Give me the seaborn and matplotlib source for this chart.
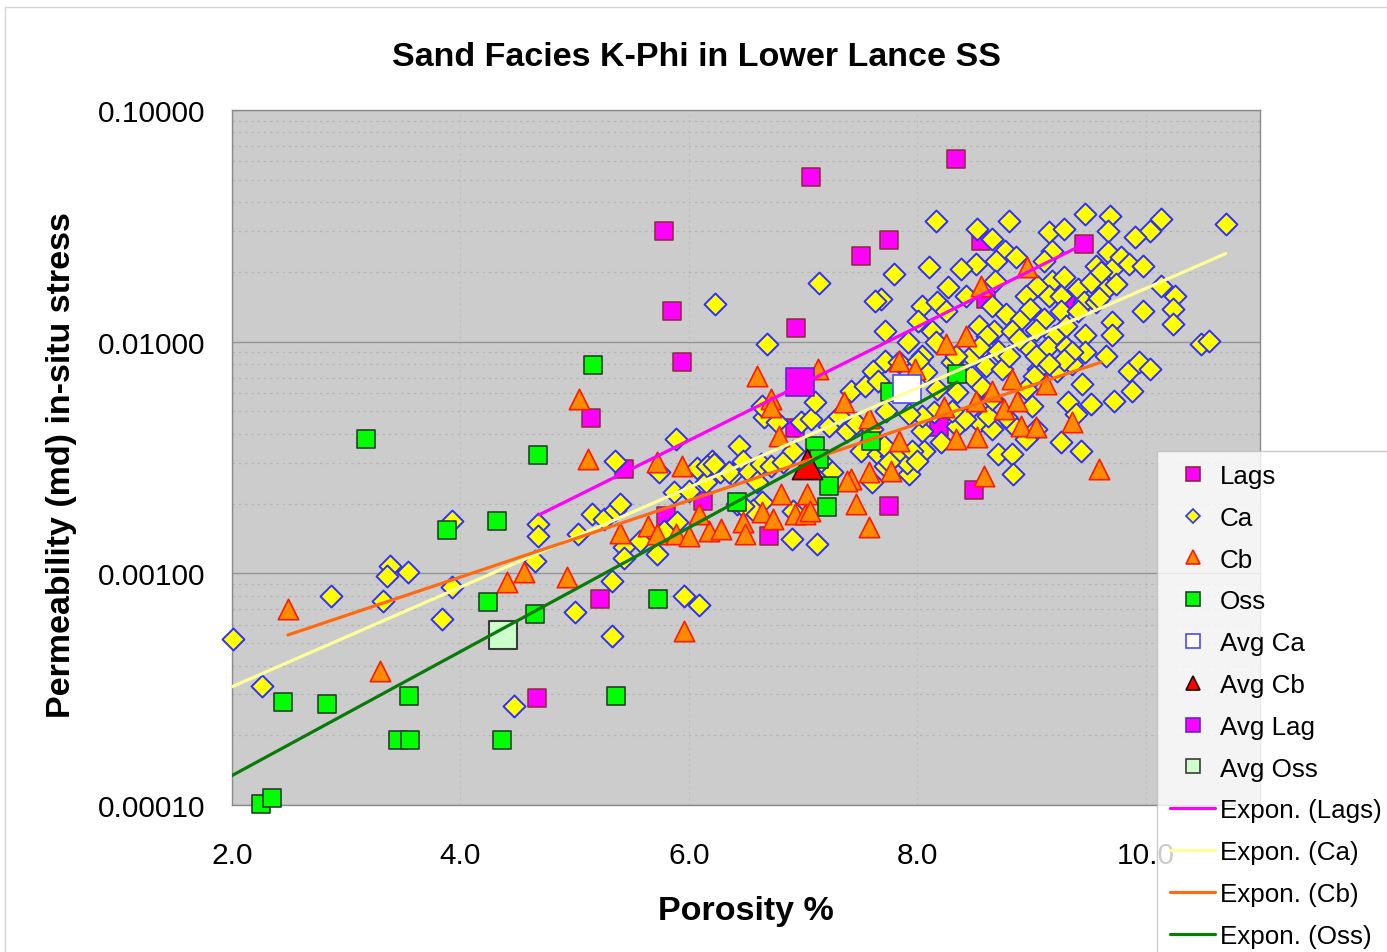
import matplotlib
matplotlib.use("Agg")
import matplotlib.pyplot as plt
from matplotlib.lines import Line2D
from matplotlib.patches import Rectangle
from matplotlib.ticker import FixedLocator, LogLocator, FormatStrFormatter, NullFormatter
import seaborn as sns

# ---------------- data (porosity %, permeability md) ----------------
lags_points = [(8.34, 0.0615), (7.07, 0.0514), (5.78, 0.0300), (7.75, 0.0274), (7.51, 0.0234),
               (5.85, 0.0136), (9.46, 0.0264), (6.94, 0.0115), (5.94, 0.00816), (5.14, 0.00469),
               (5.43, 0.00282), (8.56, 0.0272), (8.60, 0.0153), (9.30, 0.0153), (8.50, 0.00229),
               (7.75, 0.00195), (6.70, 0.00145), (5.22, 0.000776), (4.67, 0.000290), (5.80, 0.00176),
               (6.12, 0.00205), (8.19, 0.00429), (6.93, 0.00424)]

ca_points = [(2.01, 0.000521), (2.26, 0.000327), (2.87, 0.000799), (3.38, 0.00108), (3.36, 0.000975),
             (3.54, 0.00101), (3.32, 0.000761), (3.84, 0.000635), (3.93, 0.000874), (3.93, 0.00168),
             (4.47, 0.000268), (4.65, 0.00113), (4.68, 0.00163), (4.68, 0.00145),
             (5.00, 0.000681), (5.33, 0.000537), (5.96, 0.000799), (6.09, 0.000731), (5.03, 0.00148),
             (5.15, 0.00180), (5.26, 0.00172), (5.35, 0.00188), (5.40, 0.00199), (5.43, 0.00130),
             (5.43, 0.00117), (5.57, 0.00138), (5.72, 0.00121), (5.78, 0.00152), (5.90, 0.00166),
             (5.33, 0.000927), (5.35, 0.00306), (5.74, 0.00274), (5.89, 0.00380), (5.87, 0.00224),
             (6.00, 0.00226), (6.07, 0.00285), (6.15, 0.00248), (6.20, 0.00306), (6.27, 0.00274),
             (6.38, 0.00269), (6.44, 0.00355), (6.47, 0.00306), (6.23, 0.0146), (6.68, 0.00977),
             (6.16, 0.00291), (6.22, 0.00297), (6.35, 0.00274), (6.53, 0.00274), (6.63, 0.00297),
             (6.72, 0.00291), (6.82, 0.00303), (6.91, 0.00339), (6.60, 0.00248), (6.42, 0.00199),
             (6.64, 0.00203), (6.56, 0.00188), (6.91, 0.00186), (6.90, 0.00141), (7.12, 0.00134),
             (6.66, 0.00474), (6.77, 0.00451), (6.64, 0.00527), (6.98, 0.00451), (7.07, 0.00464),
             (7.10, 0.00549), (7.23, 0.00433), (7.31, 0.00478), (7.38, 0.00412), (7.46, 0.00446),
             (7.60, 0.00420), (7.42, 0.00613), (7.54, 0.00644), (7.61, 0.00747), (7.66, 0.00677),
             (7.72, 0.00825), (7.51, 0.00337), (7.66, 0.00328), (7.60, 0.00248), (7.72, 0.00291),
             (7.77, 0.00322), (7.16, 0.00306), (7.25, 0.00274), (6.47, 0.00195), (7.93, 0.00269),
             (7.91, 0.00300), (8.06, 0.00339), (8.21, 0.00369), (8.35, 0.00433), (8.54, 0.00451),
             (8.65, 0.00420), (8.83, 0.00441),
             (8.16, 0.0332), (8.80, 0.0332), (9.47, 0.0356), (9.69, 0.0349), (8.52, 0.0306),
             (8.65, 0.0277), (9.15, 0.0298), (9.28, 0.0306), (9.67, 0.0300), (8.77, 0.0246),
             (8.86, 0.0232), (8.69, 0.0223), (9.18, 0.0246), (9.11, 0.0223), (8.51, 0.0216),
             (8.38, 0.0206), (8.10, 0.0210), (7.80, 0.0196), (9.67, 0.0244), (9.56, 0.0212),
             (9.70, 0.0206), (8.68, 0.0183), (8.27, 0.0172), (8.43, 0.0157), (9.18, 0.0183),
             (9.28, 0.0190), (9.05, 0.0174), (8.95, 0.0157), (9.41, 0.0169), (9.52, 0.0181),
             (9.65, 0.0169), (9.15, 0.0157), (9.26, 0.0157), (9.46, 0.0149), (7.68, 0.0153),
             (8.04, 0.0143), (8.17, 0.0149), (8.25, 0.0135), (8.65, 0.0143), (8.78, 0.0132),
             (8.91, 0.0125), (8.99, 0.0138), (9.11, 0.0125), (9.26, 0.0135), (9.41, 0.0135),
             (9.56, 0.0149), (9.70, 0.0122), (8.01, 0.0123), (7.72, 0.0111), (7.92, 0.00996),
             (8.13, 0.0111), (8.16, 0.00996), (8.54, 0.0117), (8.67, 0.0111), (8.83, 0.0111),
             (9.04, 0.0112), (9.20, 0.0106), (9.30, 0.0117), (9.47, 0.0107), (9.70, 0.0107),
             (8.58, 0.00958), (8.71, 0.00911), (8.96, 0.00958), (9.14, 0.00949), (9.30, 0.00949),
             (9.47, 0.00903), (9.65, 0.00868), (7.84, 0.00817), (8.04, 0.00868), (8.30, 0.00817),
             (8.60, 0.00785), (9.06, 0.00762), (9.35, 0.00801), (9.22, 0.00747), (7.14, 0.0180),
             (7.63, 0.0150),
             (8.61, 0.0106), (8.89, 0.0103), (9.35, 0.00903), (9.28, 0.00834), (9.44, 0.00657),
             (9.32, 0.00549), (9.52, 0.00538), (9.39, 0.00488), (9.26, 0.00369), (9.43, 0.00339),
             (9.04, 0.00420), (8.95, 0.00380), (8.71, 0.00328), (8.83, 0.00328), (8.84, 0.00269),
             (7.81, 0.00328), (7.95, 0.00339), (8.00, 0.00306), (8.04, 0.00412), (8.42, 0.00464),
             (8.62, 0.00478), (8.78, 0.00474), (8.65, 0.00566), (8.56, 0.00644), (8.47, 0.00711),
             (8.35, 0.00607), (8.17, 0.00625), (8.08, 0.00740), (8.01, 0.00825), (8.15, 0.00498),
             (8.04, 0.00478), (8.30, 0.00503), (7.73, 0.00503), (7.93, 0.00488), (9.02, 0.00711),
             (8.95, 0.00625), (9.00, 0.00527), (8.74, 0.00762), (8.47, 0.00868), (8.54, 0.00949),
             (8.34, 0.00868), (8.80, 0.00868), (9.04, 0.00868), (9.15, 0.00801), (7.71, 0.00355),
             (7.75, 0.00303),
             (10.13, 0.0339), (10.04, 0.0300), (9.91, 0.0283), (10.70, 0.0322), (9.78, 0.0232),
             (9.85, 0.0216), (9.98, 0.0212), (9.61, 0.0200), (9.74, 0.0177), (9.59, 0.0155),
             (10.13, 0.0174), (10.26, 0.0157), (10.24, 0.0138), (10.24, 0.0119), (9.98, 0.0136),
             (10.48, 0.00977), (10.55, 0.0101), (9.85, 0.00747), (9.94, 0.00817), (10.04, 0.00762),
             (9.88, 0.00613), (9.72, 0.00555)]

cb_points = [(2.49, 0.000702), (3.30, 0.000379), (5.04, 0.00566), (5.12, 0.00312), (4.93, 0.000965),
             (4.56, 0.00101), (4.41, 0.000918), (5.40, 0.00150), (5.64, 0.00160), (5.72, 0.00148),
             (5.89, 0.00148), (6.00, 0.00145), (6.18, 0.00152), (6.28, 0.00155), (6.09, 0.00180),
             (6.47, 0.00166), (6.49, 0.00148), (5.72, 0.00303), (5.94, 0.00291), (5.96, 0.000563),
             (6.60, 0.00711), (7.13, 0.00762), (6.72, 0.00566), (6.72, 0.00522), (6.79, 0.00393),
             (7.36, 0.00549), (7.58, 0.00470), (7.42, 0.00255), (7.58, 0.00274), (7.77, 0.00276),
             (7.46, 0.00199), (7.58, 0.00158), (6.81, 0.00220), (7.03, 0.00220), (6.93, 0.00180),
             (7.02, 0.00180), (6.64, 0.00184), (6.74, 0.00172), (7.06, 0.00186), (7.38, 0.00250),
             (7.84, 0.00825), (7.98, 0.00762), (8.25, 0.00977), (8.43, 0.0106), (8.23, 0.00522),
             (8.51, 0.00555), (8.65, 0.00613), (8.83, 0.00690), (8.76, 0.00512), (8.87, 0.00555),
             (8.91, 0.00433), (9.04, 0.00429), (9.13, 0.00657), (9.35, 0.00451), (8.34, 0.00380),
             (8.52, 0.00387), (7.84, 0.00373), (8.58, 0.00264), (9.59, 0.00282), (8.56, 0.0174),
             (8.96, 0.0210)]

oss_points = [(3.17, 0.00380), (5.16, 0.00795), (4.68, 0.00324), (3.88, 0.00154), (4.32, 0.00168),
              (4.24, 0.000753), (4.65, 0.000668), (5.73, 0.000776), (2.45, 0.000279), (2.83, 0.000273),
              (3.55, 0.000296), (3.45, 0.000191), (3.56, 0.000191), (4.36, 0.000191), (5.36, 0.000296),
              (2.25, 0.000101), (2.35, 0.000107), (6.42, 0.00203), (7.10, 0.00355), (7.14, 0.00312),
              (7.23, 0.00238), (7.21, 0.00194), (7.59, 0.00373), (8.35, 0.00726), (7.76, 0.00607)]

avg_ca = (7.91, 0.00625)
avg_cb = (7.03, 0.00297)
avg_lag = (6.97, 0.00670)
avg_oss = (4.37, 0.000542)

# exponential trend lines (end points)
trend_lags_x, trend_lags_y = [4.69, 9.46], [0.00179, 0.0264]
trend_ca_x, trend_ca_y = [2.00, 10.70], [0.000324, 0.0240]
trend_cb_x, trend_cb_y = [2.49, 9.61], [0.000542, 0.00816]
trend_oss_x, trend_oss_y = [2.00, 8.35], [0.000134, 0.00670]

x_ticks = [2.0, 4.0, 6.0, 8.0, 10.0]
y_ticks = [0.0001, 0.001, 0.01, 0.1]

# ---------------- style ----------------
sns.set_style("white")
plt.rcParams['font.family'] = ['Liberation Sans', 'DejaVu Sans']
plt.rcParams['text.color'] = 'black'
plt.rcParams['axes.labelcolor'] = 'black'
plt.rcParams['xtick.color'] = 'black'
plt.rcParams['ytick.color'] = 'black'

W, H = 1387, 953
fig = plt.figure(figsize=(W / 100, H / 100), dpi=100)
fig.patch.set_facecolor("white")
ax = fig.add_axes([232 / W, 1 - 806 / H, (1260 - 232) / W, (806 - 111) / H])
ax.set_facecolor("#cccccc")

def unzip(pts):
    return [p[0] for p in pts], [p[1] for p in pts]

series = [
    ("Lags", lags_points, "s", 185, "#ff00ff", "#8b2a3a", 1.1, 3),
    ("Ca", ca_points, "D", 125, "#ffff00", "#2f2fff", 1.4, 4),
    ("Cb", cb_points, "^", 215, "#ff8c00", "#ff1a00", 1.2, 5),
    ("Oss", oss_points, "s", 175, "#00ff00", "#24402a", 1.2, 6),
    ("Avg Ca", [avg_ca], "s", 380, "#ffffff", "#4a4aff", 1.2, 7),
    ("Avg Cb", [avg_cb], "^", 470, "#ff0000", "#2a0000", 1.2, 8),
    ("Avg Lag", [avg_lag], "s", 400, "#ff00ff", "#5b2bd0", 1.2, 9),
    ("Avg Oss", [avg_oss], "s", 430, "#ccffcc", "#3a3a3a", 1.5, 10),
]
for name, pts, mk, size, fc, ec, lw, z in series:
    xs, ys = unzip(pts)
    sns.scatterplot(x=xs, y=ys, ax=ax, marker=mk, s=size, color=fc, edgecolor=ec,
                    linewidth=lw, zorder=z, clip_on=False, legend=False)

trends = [
    ("Expon. (Lags)", trend_lags_x, trend_lags_y, "#ff00ff"),
    ("Expon. (Ca)", trend_ca_x, trend_ca_y, "#ffff99"),
    ("Expon. (Cb)", trend_cb_x, trend_cb_y, "#ff6a10"),
    ("Expon. (Oss)", trend_oss_x, trend_oss_y, "#0a7a0a"),
]
for name, tx, ty, col in trends:
    sns.lineplot(x=tx, y=ty, ax=ax, color=col, linewidth=2.3, zorder=12, legend=False)

ax.set_yscale("log")
ax.set_xlim(2.0, 11.0)
ax.set_ylim(0.0001, 0.1)
ax.xaxis.set_major_locator(FixedLocator(x_ticks))
ax.xaxis.set_major_formatter(FormatStrFormatter("%.1f"))
ax.yaxis.set_major_locator(FixedLocator(y_ticks))
ax.yaxis.set_major_formatter(FormatStrFormatter("%.5f"))
ax.yaxis.set_minor_locator(LogLocator(base=10, subs=range(2, 10)))
ax.yaxis.set_minor_formatter(NullFormatter())

ax.grid(False)
ax.grid(True, which="major", axis="y", color="#959595", linewidth=1.0, linestyle="-", zorder=0)
ax.grid(True, which="minor", axis="y", color="#b4b4b4", linewidth=0.9, linestyle=(0, (2, 3)), zorder=0)
ax.grid(True, which="major", axis="x", color="#bebebe", linewidth=0.8, linestyle=(0, (2, 3)), zorder=0)
ax.set_axisbelow(True)

for sp in ax.spines.values():
    sp.set_color("#8a8a8a")
    sp.set_linewidth(1.0)
    sp.set_visible(True)

ax.tick_params(axis="x", which="major", length=6, color="#8a8a8a", pad=20, labelsize=21.5, labelcolor="black")
ax.tick_params(axis="y", which="major", length=0, pad=19, labelsize=21.5, labelcolor="black")
ax.tick_params(axis="y", which="minor", length=0)
ax.set_xlabel("")
ax.set_ylabel("")

fig.text(697 / W, 1 - 57 / H, "Sand Facies K-Phi in Lower Lance SS", ha="center", va="center",
         fontsize=24.5, fontweight="bold", color="black")
fig.text(746 / W, 1 - 912 / H, "Porosity %", ha="center", va="center", fontsize=24.5,
         fontweight="bold", color="black")
fig.text(62 / W, 1 - 465 / H, "Permeability (md) in-situ stress", ha="center", va="center",
         rotation=90, fontsize=24.5, fontweight="bold", color="black")

# chart frame
fig.patches.append(Rectangle((5 / W, -0.1), 1.2, 1.1 - 8 / H, transform=fig.transFigure,
                             fill=False, edgecolor="#d4d4d4", linewidth=1.0, zorder=0))

# legend
handles = []
for name, pts, mk, size, fc, ec, lw, z in series:
    ms = 9.5 if mk != "D" else 7.5
    handles.append(Line2D([], [], linestyle="none", marker=mk, markersize=ms,
                          markerfacecolor=fc, markeredgecolor=ec, markeredgewidth=1.2, label=name))
for name, tx, ty, col in trends:
    handles.append(Line2D([], [], color=col, linewidth=2.3, label=name))

leg = fig.legend(handles=handles, loc="upper left", bbox_to_anchor=(1157 / W, 1 - 452 / H),
                 bbox_transform=fig.transFigure, fontsize=18.7, frameon=True, fancybox=False,
                 borderpad=0.5, labelspacing=0.685, handlelength=1.75, handletextpad=0.18,
                 borderaxespad=0.0)
leg.get_frame().set_facecolor("white")
leg.get_frame().set_edgecolor("#bdbdbd")
leg.get_frame().set_linewidth(1.0)
leg.set_zorder(20)

fig.savefig("out.png", dpi=100, facecolor="white")
